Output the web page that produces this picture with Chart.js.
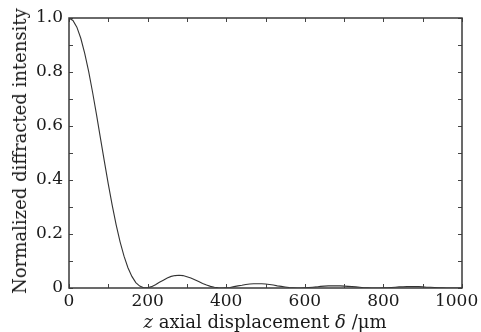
<!DOCTYPE html>
<html><head><meta charset="utf-8">
<script src="https://cdn.jsdelivr.net/npm/chart.js@4/dist/chart.umd.min.js"></script>
<style>
html,body{margin:0;padding:0;background:#fff;}
#wrap{position:relative;width:481px;height:332px;overflow:hidden;background:#fff;}
canvas{position:absolute;left:0;top:0;}
.t{position:absolute;font-family:"DejaVu Serif",serif;font-size:18px;line-height:18px;color:#1a1a1a;white-space:nowrap;}
#xt{left:265px;top:313px;transform:translateX(-50%);}
#yt{left:20px;top:151px;transform:translate(-50%,-50%) rotate(-90deg);}
</style></head><body>
<div id="wrap"><canvas id="c" width="481" height="332"></canvas>
<div class="t" id="xt"><i>z</i> axial displacement <i>δ</i> /μm</div>
<div class="t" id="yt">Normalized diffracted intensity</div></div>
<script>
const displacement = [0,10,20,30,40,50,60,70,80,90,100,110,120,130,140,150,160,170,180,190,200,210,220,230,240,250,260,270,280,290,300,310,320,330,340,350,360,370,380,390,400,410,420,430,440,450,460,470,480,490,500,510,520,530,540,550,560,570,580,590,600,610,620,630,640,650,660,670,680,690,700,710,720,730,740,750,760,770,780,790,800,810,820,830,840,850,860,870,880,890,900,910,920,930,940,950,960,970,980,990,1000];
const intensity = [1.000,0.991,0.966,0.925,0.869,0.802,0.725,0.642,0.555,0.469,0.385,0.306,0.234,0.171,0.118,0.075,0.043,0.020,0.007,0.001,0.001,0.005,0.012,0.021,0.029,0.037,0.043,0.046,0.047,0.046,0.042,0.037,0.031,0.024,0.017,0.011,0.006,0.003,0.001,0.000,0.001,0.002,0.005,0.008,0.010,0.013,0.015,0.016,0.016,0.016,0.015,0.013,0.011,0.008,0.006,0.004,0.002,0.001,0.000,0.000,0.001,0.002,0.003,0.004,0.006,0.007,0.008,0.008,0.008,0.008,0.007,0.006,0.005,0.004,0.003,0.001,0.001,0.000,0.000,0.000,0.001,0.001,0.002,0.003,0.004,0.004,0.005,0.005,0.005,0.005,0.004,0.003,0.003,0.002,0.001,0.001,0.000,0.000,0.000,0.000,0.001];
const xTickLabels = ['0','200','400','600','800','1000'];
const yTickLabels = ['0','0.2','0.4','0.6','0.8','1.0'];

const points = displacement.map((d,i)=>({x:d,y:intensity[i]}));
const FONT = {family:'"DejaVu Serif",serif', size:17};

const frameTicks = {
  id:'frameTicks',
  afterDraw(chart){
    const {ctx, chartArea:a, scales:{x,y}} = chart;
    ctx.save();
    ctx.strokeStyle = '#444';
    ctx.lineWidth = 1;
    ctx.beginPath();
    x.ticks.forEach(t=>{
      const p = Math.round(x.getPixelForValue(t.value))+0.5;
      ctx.moveTo(p,a.bottom); ctx.lineTo(p,a.bottom-4);
      ctx.moveTo(p,a.top); ctx.lineTo(p,a.top+4);
    });
    y.ticks.forEach(t=>{
      const p = Math.round(y.getPixelForValue(t.value))+0.5;
      ctx.moveTo(a.left,p); ctx.lineTo(a.left+4,p);
      ctx.moveTo(a.right,p); ctx.lineTo(a.right-4,p);
    });
    ctx.stroke();
    ctx.lineWidth = 1.5;
    ctx.strokeStyle = '#3a3a3a';
    ctx.strokeRect(a.left, a.top, a.right-a.left, a.bottom-a.top);
    ctx.restore();
  }
};

new Chart(document.getElementById('c'), {
  type:'line',
  data:{datasets:[{data:points, borderColor:'#333', borderWidth:1.1, pointRadius:0, tension:0, fill:false}]},
  options:{
    responsive:false, animation:false, devicePixelRatio:1,
    layout:{padding:{top:18,right:19,left:0,bottom:0}},
    plugins:{legend:{display:false}, tooltip:{enabled:false}},
    scales:{
      x:{type:'linear', min:0, max:1000,
         grid:{display:false, drawTicks:false}, border:{display:false},
         afterFit(s){ s.height = 44; s.paddingRight = 0; s.paddingLeft = 0; },
         ticks:{stepSize:100, autoSkip:false, maxRotation:0, padding:3, color:'#1a1a1a', font:FONT,
           callback:(v)=> xTickLabels.includes(String(v)) ? (v===1000 ? '1000\u2007' : String(v)) : ''}},
      y:{type:'linear', min:0, max:1,
         grid:{display:false, drawTicks:false}, border:{display:false},
         afterFit(s){ s.width = 69; s.paddingTop = 0; s.paddingBottom = 0; },
         ticks:{stepSize:0.1, autoSkip:false, padding:6, color:'#1a1a1a', font:FONT,
           callback:(v)=>{ const s = (Math.round(v*10)/10).toFixed(1); const lab = s==='0.0' ? '0' : s; return yTickLabels.includes(lab) ? lab : ''; }}}
    }
  },
  plugins:[frameTicks]
});
</script>
</body></html>
